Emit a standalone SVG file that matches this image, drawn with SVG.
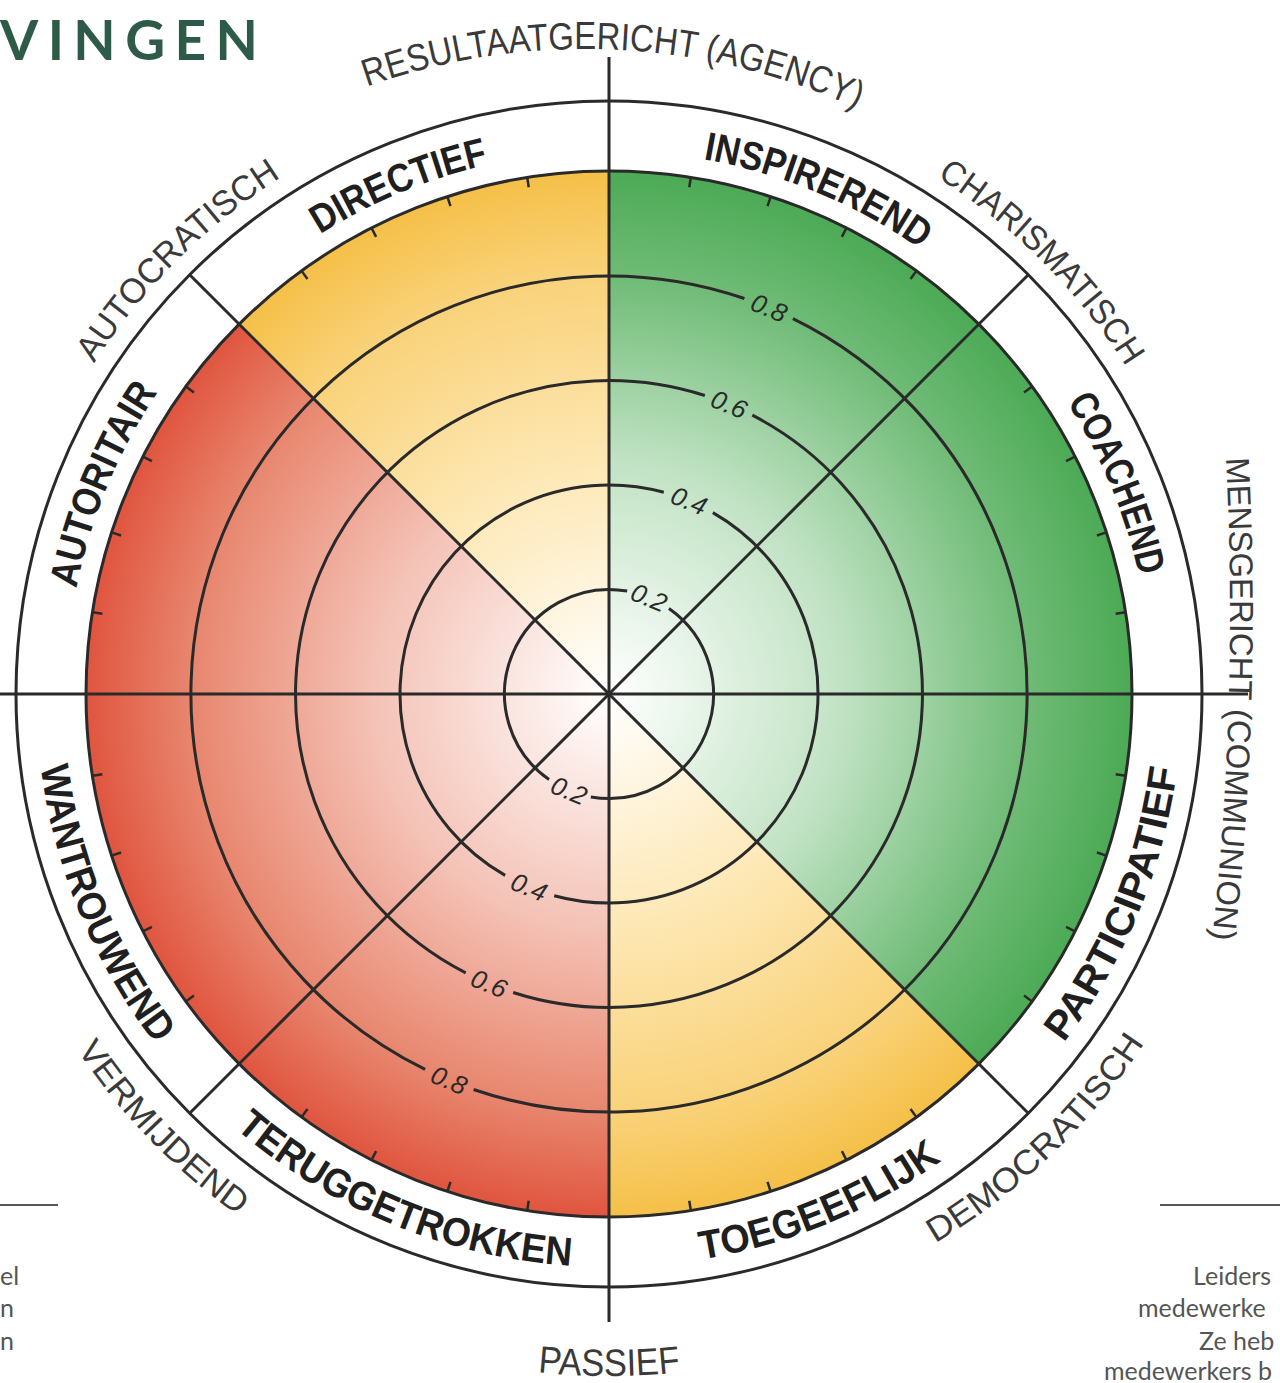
<svg xmlns="http://www.w3.org/2000/svg" width="1280" height="1383" viewBox="0 0 1280 1383">
<defs>
<style>
.ln{stroke:#2a2a2a;stroke-width:3;fill:none}
.tk{stroke:#2a2a2a;stroke-width:2.5}
.bold{font-family:"Liberation Sans",Arial,sans-serif;font-weight:700;font-size:40px;fill:#1f1f1f}
.outer{font-family:"Liberation Sans",Arial,sans-serif;font-size:35px;fill:#3a3a3a}
.big{font-size:38px}
.num{font-family:"Liberation Sans",Arial,sans-serif;font-style:italic;font-size:26px;fill:#2a2a2a;text-anchor:middle;dominant-baseline:central}
.side{font-family:Lato,"Noto Sans",sans-serif;font-size:25px;fill:#555}
</style>
<radialGradient id="gGreen" gradientUnits="userSpaceOnUse" cx="609" cy="694" r="523">
<stop offset="0" stop-color="#ffffff"/>
<stop offset="0.45" stop-color="#c0e2c3"/>
<stop offset="0.8" stop-color="#6fbb76"/>
<stop offset="1" stop-color="#4caa55"/>
</radialGradient>
<radialGradient id="gYellow" gradientUnits="userSpaceOnUse" cx="609" cy="694" r="523">
<stop offset="0" stop-color="#ffffff"/>
<stop offset="0.45" stop-color="#fde7b3"/>
<stop offset="0.8" stop-color="#f9d27a"/>
<stop offset="1" stop-color="#f5c048"/>
</radialGradient>
<radialGradient id="gRed" gradientUnits="userSpaceOnUse" cx="609" cy="694" r="523">
<stop offset="0" stop-color="#ffffff"/>
<stop offset="0.45" stop-color="#f4c2b6"/>
<stop offset="0.8" stop-color="#e8866e"/>
<stop offset="1" stop-color="#e0553f"/>
</radialGradient>
<line id="tk" class="tk" x1="1132" y1="694" x2="1122" y2="694"/>
<path id="pAut" d="M76.34,588.53 A543,543 0 0 1 157.95,391.93"/>
<path id="pDir" d="M320.00,234.30 A543,543 0 0 1 488.24,164.60"/>
<path id="pIns" d="M703.29,159.25 A543,543 0 0 1 920.45,249.20"/>
<path id="pCoa" d="M1066.96,402.25 A543,543 0 0 1 1139.13,576.47"/>
<path id="pPar" d="M1063.59,1042.82 A573,573 0 0 0 1177.09,768.79"/>
<path id="pToe" d="M701.60,1259.47 A573,573 0 0 0 943.37,1159.32"/>
<path id="pTer" d="M235.35,1128.41 A573,573 0 0 0 571.03,1265.74"/>
<path id="pWan" d="M40.65,766.81 A573,573 0 0 0 155.63,1044.41"/>
<path id="pRes" d="M366.93,86.61 A651,651 0 0 1 857.55,108.80"/>
<path id="pCha" d="M936.93,177.27 A612,612 0 0 1 1126.30,366.98"/>
<path id="pAuc" d="M94.00,363.37 A612,612 0 0 1 281.07,177.27"/>
<path id="pMen" d="M1226,458 A3000,3000 0 0 1 1212,941"/>
<path id="pVer" d="M77.20,1050.03 A640,640 0 0 0 238.11,1215.57"/>
<path id="pDem" d="M935.17,1243.16 A640,640 0 0 0 1147.04,1039.13"/>
<path id="pPas" d="M537.71,1372.26 A682,682 0 0 0 680.29,1372.26"/>
</defs>

<rect width="1280" height="1383" fill="#ffffff"/>

<g id="title">
<text x="0" y="60" font-family="Lato,'Noto Sans',sans-serif" font-weight="700" font-size="55" fill="#2e5b47" textLength="258" lengthAdjust="spacing">VINGEN</text>
</g>

<g id="sectors">
<path id="sec-green" d="M609,694 L978.82,1063.82 A523,523 0 0 0 609,171 Z" fill="url(#gGreen)"/>
<path id="sec-yellow-top" d="M609,694 L609,171 A523,523 0 0 0 239.18,324.18 Z" fill="url(#gYellow)"/>
<path id="sec-red" d="M609,694 L239.18,324.18 A523,523 0 0 0 609,1217 Z" fill="url(#gRed)"/>
<path id="sec-yellow-bottom" d="M609,694 L609,1217 A523,523 0 0 0 978.82,1063.82 Z" fill="url(#gYellow)"/>
</g>

<g id="rings" class="ln">
<path d="M627.15,591.09 A104.5,104.5 0 0 0 549.06,779.60 M590.85,796.91 A104.5,104.5 0 0 0 668.94,608.40"/>
<path d="M663.80,492.31 A209,209 0 0 0 505.13,875.36 M554.20,895.69 A209,209 0 0 0 712.87,512.64"/>
<path d="M704.84,395.51 A313.5,313.5 0 0 0 465.71,972.83 M513.16,992.49 A313.5,313.5 0 0 0 752.29,415.17"/>
<path d="M744.40,298.53 A418,418 0 0 0 425.10,1069.38 M473.60,1089.47 A418,418 0 0 0 792.90,318.62"/>
<circle cx="609" cy="694" r="523"/>
<circle cx="609" cy="694" r="593"/>
</g>

<g id="ticks">
<use href="#tk" transform="rotate(9 609 694)"/>
<use href="#tk" transform="rotate(18 609 694)"/>
<use href="#tk" transform="rotate(27 609 694)"/>
<use href="#tk" transform="rotate(36 609 694)"/>
<use href="#tk" transform="rotate(54 609 694)"/>
<use href="#tk" transform="rotate(63 609 694)"/>
<use href="#tk" transform="rotate(72 609 694)"/>
<use href="#tk" transform="rotate(81 609 694)"/>
<use href="#tk" transform="rotate(99 609 694)"/>
<use href="#tk" transform="rotate(108 609 694)"/>
<use href="#tk" transform="rotate(117 609 694)"/>
<use href="#tk" transform="rotate(126 609 694)"/>
<use href="#tk" transform="rotate(144 609 694)"/>
<use href="#tk" transform="rotate(153 609 694)"/>
<use href="#tk" transform="rotate(162 609 694)"/>
<use href="#tk" transform="rotate(171 609 694)"/>
<use href="#tk" transform="rotate(189 609 694)"/>
<use href="#tk" transform="rotate(198 609 694)"/>
<use href="#tk" transform="rotate(207 609 694)"/>
<use href="#tk" transform="rotate(216 609 694)"/>
<use href="#tk" transform="rotate(234 609 694)"/>
<use href="#tk" transform="rotate(243 609 694)"/>
<use href="#tk" transform="rotate(252 609 694)"/>
<use href="#tk" transform="rotate(261 609 694)"/>
<use href="#tk" transform="rotate(279 609 694)"/>
<use href="#tk" transform="rotate(288 609 694)"/>
<use href="#tk" transform="rotate(297 609 694)"/>
<use href="#tk" transform="rotate(306 609 694)"/>
<use href="#tk" transform="rotate(324 609 694)"/>
<use href="#tk" transform="rotate(333 609 694)"/>
<use href="#tk" transform="rotate(342 609 694)"/>
<use href="#tk" transform="rotate(351 609 694)"/>
</g>

<g id="connectors" class="ln">
<line x1="609" y1="57" x2="609" y2="1322"/>
<line x1="0" y1="694" x2="1248" y2="694"/>
<line x1="189.69" y1="274.69" x2="1028.31" y2="1113.31"/>
<line x1="1028.31" y1="274.69" x2="189.69" y2="1113.31"/>
</g>

<g id="scale-labels" class="num">
<text x="649.0" y="597.5" transform="rotate(22.5 649.0 597.5)">0.2</text>
<text x="689.0" y="500.9" transform="rotate(22.5 689.0 500.9)">0.4</text>
<text x="729.0" y="404.4" transform="rotate(22.5 729.0 404.4)">0.6</text>
<text x="769.0" y="307.8" transform="rotate(22.5 769.0 307.8)">0.8</text>
<text x="569.0" y="790.5" transform="rotate(22.5 569.0 790.5)">0.2</text>
<text x="529.0" y="887.1" transform="rotate(22.5 529.0 887.1)">0.4</text>
<text x="489.0" y="983.6" transform="rotate(22.5 489.0 983.6)">0.6</text>
<text x="449.0" y="1080.2" transform="rotate(22.5 449.0 1080.2)">0.8</text>
</g>

<g id="style-labels" class="bold">
<text id="lbl-autoritair"><textPath href="#pAut" textLength="214" lengthAdjust="spacingAndGlyphs">AUTORITAIR</textPath></text>
<text id="lbl-directief"><textPath href="#pDir" textLength="183" lengthAdjust="spacingAndGlyphs">DIRECTIEF</textPath></text>
<text id="lbl-inspirerend"><textPath href="#pIns" textLength="237" lengthAdjust="spacingAndGlyphs">INSPIREREND</textPath></text>
<text id="lbl-coachend"><textPath href="#pCoa" textLength="189" lengthAdjust="spacingAndGlyphs">COACHEND</textPath></text>
<text id="lbl-participatief"><textPath href="#pPar" textLength="300" lengthAdjust="spacingAndGlyphs">PARTICIPATIEF</textPath></text>
<text id="lbl-toegeeflijk"><textPath href="#pToe" textLength="262" lengthAdjust="spacingAndGlyphs">TOEGEEFLIJK</textPath></text>
<text id="lbl-teruggetrokken"><textPath href="#pTer" textLength="369" lengthAdjust="spacingAndGlyphs">TERUGGETROKKEN</textPath></text>
<text id="lbl-wantrouwend"><textPath href="#pWan" textLength="304" lengthAdjust="spacingAndGlyphs">WANTROUWEND</textPath></text>
</g>

<g id="axis-labels" class="outer">
<text id="lbl-resultaat" class="big"><textPath href="#pRes" textLength="503" lengthAdjust="spacingAndGlyphs">RESULTAATGERICHT (AGENCY)</textPath></text>
<text id="lbl-charismatisch"><textPath href="#pCha" textLength="270" lengthAdjust="spacingAndGlyphs">CHARISMATISCH</textPath></text>
<text id="lbl-autocratisch"><textPath href="#pAuc" textLength="266" lengthAdjust="spacingAndGlyphs">AUTOCRATISCH</textPath></text>
<text id="lbl-mensgericht" style="font-size:33px"><textPath href="#pMen" textLength="482" lengthAdjust="spacingAndGlyphs">MENSGERICHT (COMMUNION)</textPath></text>
<text id="lbl-vermijdend" style="font-size:34px"><textPath href="#pVer" textLength="232" lengthAdjust="spacingAndGlyphs">VERMIJDEND</textPath></text>
<text id="lbl-democratisch" style="font-size:34px"><textPath href="#pDem" textLength="292" lengthAdjust="spacingAndGlyphs">DEMOCRATISCH</textPath></text>
<text id="lbl-passief" class="big"><textPath href="#pPas" textLength="143" lengthAdjust="spacingAndGlyphs">PASSIEF</textPath></text>
</g>

<g id="side-left">
<line x1="0" y1="1205" x2="58" y2="1205" stroke="#555" stroke-width="2"/>
<text class="side" x="0" y="1285">el</text>
<text class="side" x="0" y="1317">n</text>
<text class="side" x="0" y="1350">n</text>
</g>

<g id="side-right">
<line x1="1160" y1="1205" x2="1280" y2="1205" stroke="#555" stroke-width="2"/>
<text class="side" x="1193" y="1285">Leiders</text>
<text class="side" x="1138" y="1317">medewerke</text>
<text class="side" x="1199" y="1350">Ze heb</text>
<text class="side" x="1104" y="1380">medewerkers b</text>
</g>
</svg>
